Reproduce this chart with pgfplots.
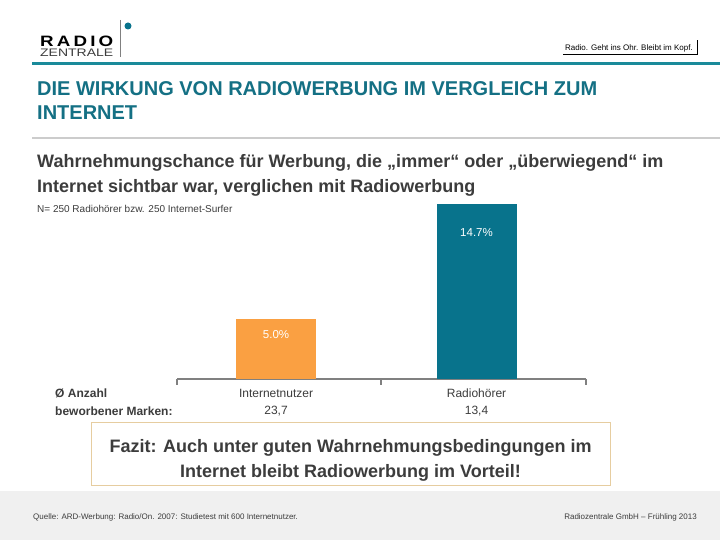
\documentclass[border=0pt]{standalone}
\usepackage{pgfplots}
\pgfplotsset{compat=1.18}
\usepackage{fontspec}
\setmainfont{Liberation Sans}
\newcommand\fs[1]{\fontsize{#1}{#1}\selectfont}
\definecolor{teal1}{RGB}{8,115,140}
\definecolor{tealline}{RGB}{26,138,154}
\definecolor{titleteal}{RGB}{20,112,132}
\definecolor{orange1}{RGB}{250,160,66}
\definecolor{darktext}{RGB}{60,60,60}
\definecolor{axisgray}{RGB}{128,128,128}
\definecolor{footgray}{RGB}{240,240,240}
\definecolor{boxborder}{RGB}{230,205,160}
\begin{document}
\begin{tikzpicture}[x=1pt,y=1pt]
\useasboundingbox (0,0) rectangle (720,540);
\fill[white] (0,0) rectangle (720,540);
\begin{scope}[shift={(0,540)},y=-1pt]
% header
\node[anchor=base west,inner sep=0] at (40,46.5) {\resizebox{73pt}{10.5pt}{\bfseries R\,A\,D\,I\,O}};
\node[anchor=base west,inner sep=0] at (40,57) {\resizebox{73pt}{7.5pt}{\color{darktext}ZENTRALE}};
\draw[axisgray,line width=0.8pt] (120,20) -- (120,57);
\fill[teal1] (128,26) circle (3.5);
\node[anchor=base east,inner sep=0] at (693,51) {\fs{8}\color{black}Radio. Geht ins Ohr. Bleibt im Kopf.};
\draw[black,line width=0.8pt] (563,54) -- (697,54) -- (697,40);
\draw[tealline,line width=3.5pt] (32,63.5) -- (720,63.5);
% title
\node[anchor=base west,inner sep=0] at (37,95.5) {\fs{20}\bfseries\color{titleteal}DIE WIRKUNG VON RADIOWERBUNG IM VERGLEICH ZUM};
\node[anchor=base west,inner sep=0] at (37,119.5) {\fs{20}\bfseries\color{titleteal}INTERNET};
\draw[black!20,line width=1.2pt] (32,138) -- (720,138);
% subtitle
\node[anchor=base west,inner sep=0] at (37,168) {\fs{18}\bfseries\color{darktext}Wahrnehmungschance für Werbung, die „immer“ oder „überwiegend“ im};
\node[anchor=base west,inner sep=0] at (37,192.5) {\fs{18}\bfseries\color{darktext}Internet sichtbar war, verglichen mit Radiowerbung};
\node[anchor=base west,inner sep=0] at (37,213) {\fs{10}\color{darktext}N= 250 Radiohörer bzw. 250 Internet-Surfer};
\node[anchor=base west,inner sep=0] at (55,398) {\fs{12}\bfseries\color{darktext}Ø Anzahl};
\node[anchor=base west,inner sep=0] at (55,416) {\fs{12}\bfseries\color{darktext}beworbener Marken:};
% Fazit box
\draw[boxborder,line width=1pt] (91,423) rectangle (610,486);
\node[anchor=base,inner sep=0] at (350.5,453) {\fs{18}\bfseries\color{darktext}Fazit: Auch unter guten Wahrnehmungsbedingungen im};
\node[anchor=base,inner sep=0] at (350.5,478) {\fs{18}\bfseries\color{darktext}Internet bleibt Radiowerbung im Vorteil!};
% footer
\fill[footgray] (0,491) rectangle (720,540);
\node[anchor=base west,inner sep=0] at (33,520) {\fs{8}\color{darktext}Quelle: ARD-Werbung: Radio/On. 2007: Studietest mit 600 Internetnutzer.};
\node[anchor=base east,inner sep=0] at (697,520) {\fs{8}\color{darktext}Radiozentrale GmbH – Frühling 2013};
\end{scope}
% chart
\begin{axis}[
  at={(177pt,161pt)}, anchor=south west,
  scale only axis, width=409pt, height=179pt,
  xmin=-0.494, xmax=1.546, ymin=0, ymax=15,
  axis y line=none, axis x line*=bottom,
  axis line style={axisgray,line width=2pt},
  xtick={0,1}, xticklabels={\rule{0pt}{11pt}Internetnutzer\\23{,}7,\rule{0pt}{11pt}Radiohörer\\13{,}4},
  major tick length=0pt,
  extra x ticks={-0.494,0.524,1.546}, extra x tick labels={},
  extra x tick style={major tick length=6pt, tick style={axisgray,line width=1.5pt}},
  tick align=outside,
  x tick label style={font=\fontsize{12}{17}\selectfont, text=darktext, align=center, yshift=-4pt},
  ybar, bar width=80pt, bar shift=0pt,
  point meta=y,
  nodes near coords={\pgfmathprintnumber[fixed,precision=1,zerofill,assume math mode=true]{\pgfplotspointmeta}\%},
  every node near coord/.append style={font=\fs{11.5}, text=white, anchor=north},
  clip=false,
]
\addplot[fill=orange1, draw=none, every node near coord/.append style={yshift=-8pt}] coordinates {(0,5.0)};
\addplot[fill=teal1, draw=none, every node near coord/.append style={yshift=-21pt}] coordinates {(1,14.7)};
\end{axis}
\end{tikzpicture}
\end{document}
